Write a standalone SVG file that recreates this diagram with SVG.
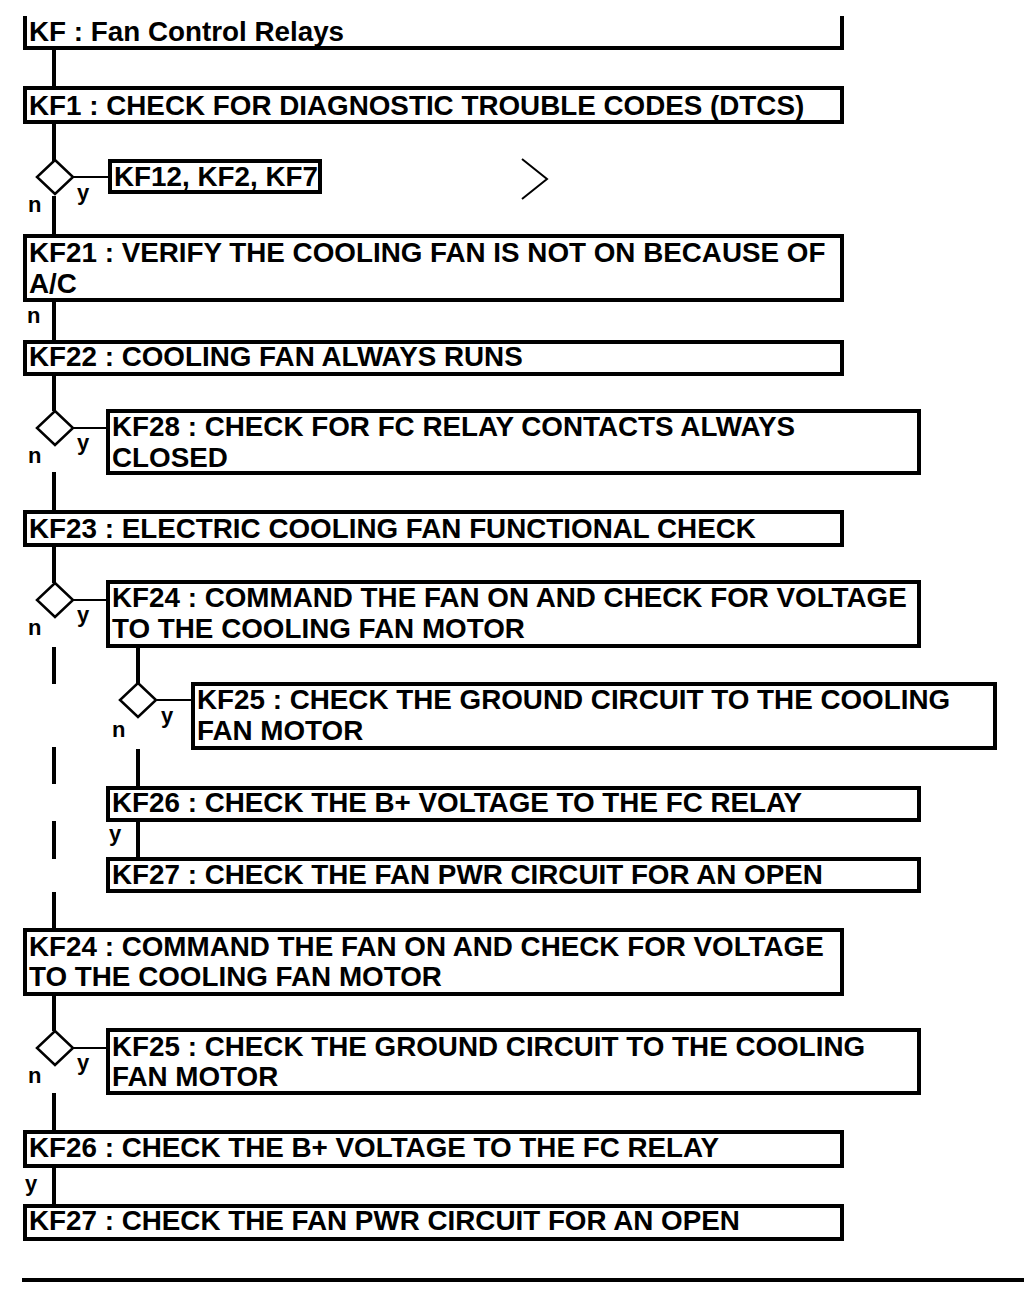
<svg xmlns="http://www.w3.org/2000/svg" width="1024" height="1304" viewBox="0 0 1024 1304">
<style>
.box{fill:#fff;stroke:#000;stroke-width:4}
.dia{fill:#fff;stroke:#000;stroke-width:2.5}
.ln{stroke:#000;stroke-width:4;fill:none}
.thin{stroke:#000;stroke-width:2;fill:none}
text{font-family:"Liberation Sans",Arial,sans-serif;font-weight:bold;font-size:27.8px;fill:#000}
.lbl{font-size:22px}
</style>
<rect width="1024" height="1304" fill="#fff"/>
<g id="connectors">
<line class="ln" x1="54" y1="50" x2="54" y2="88"/>
<line class="ln" x1="54" y1="122" x2="54" y2="161"/>
<line class="thin" x1="73" y1="177" x2="110" y2="177"/>
<line class="ln" x1="54" y1="196" x2="54" y2="236"/>
<line class="ln" x1="54" y1="300" x2="54" y2="342"/>
<line class="ln" x1="54" y1="374" x2="54" y2="411"/>
<line class="thin" x1="73" y1="428" x2="108" y2="428"/>
<line class="ln" x1="54" y1="472" x2="54" y2="512"/>
<line class="ln" x1="54" y1="545" x2="54" y2="583"/>
<line class="thin" x1="73" y1="600" x2="108" y2="600"/>
<line class="ln" x1="54" y1="647" x2="54" y2="684"/>
<line class="ln" x1="54" y1="747" x2="54" y2="784"/>
<line class="ln" x1="54" y1="821" x2="54" y2="859"/>
<line class="ln" x1="54" y1="892" x2="54" y2="930"/>
<line class="ln" x1="138" y1="647" x2="138" y2="684"/>
<line class="thin" x1="157" y1="700" x2="193" y2="700"/>
<line class="ln" x1="138" y1="749" x2="138" y2="788"/>
<line class="ln" x1="138" y1="820" x2="138" y2="859"/>
<line class="ln" x1="54" y1="994" x2="54" y2="1031"/>
<line class="thin" x1="73" y1="1048" x2="108" y2="1048"/>
<line class="ln" x1="54" y1="1093" x2="54" y2="1132"/>
<line class="ln" x1="54" y1="1166" x2="54" y2="1206"/>
<polyline class="thin" points="522,159 547,179 522,199"/>
<line class="ln" x1="22" y1="1280" x2="1024" y2="1280"/>
</g>
<g id="title">
<polyline class="ln" points="25,16 25,48 842,48 842,16"/>
<text x="29" y="41">KF : Fan Control Relays</text>
</g>
<g id="kf1">
<rect class="box" x="25" y="88" width="817" height="34"/>
<text x="29" y="115">KF1 : CHECK FOR DIAGNOSTIC TROUBLE CODES (DTCS)</text>
</g>
<g id="d1">
<polygon class="dia" points="55,160 73,177 55,194 37,177"/>
<text class="lbl" x="77" y="200">y</text>
<text class="lbl" x="28" y="212">n</text>
</g>
<g id="kf12">
<rect class="box" x="110" y="161" width="210" height="31"/>
<text x="114" y="186">KF12, KF2, KF7</text>
</g>
<g id="kf21">
<rect class="box" x="25" y="236" width="817" height="64"/>
<text x="29" y="262">KF21 : VERIFY THE COOLING FAN IS NOT ON BECAUSE OF</text>
<text x="29" y="293">A/C</text>
<text class="lbl" x="27" y="323">n</text>
</g>
<g id="kf22">
<rect class="box" x="25" y="342" width="817" height="32"/>
<text x="29" y="366">KF22 : COOLING FAN ALWAYS RUNS</text>
</g>
<g id="d2">
<polygon class="dia" points="55,411 73,428 55,445 37,428"/>
<text class="lbl" x="77" y="450">y</text>
<text class="lbl" x="28" y="463">n</text>
</g>
<g id="kf28">
<rect class="box" x="108" y="411" width="811" height="62"/>
<text x="112" y="436">KF28 : CHECK FOR FC RELAY CONTACTS ALWAYS</text>
<text x="112" y="467">CLOSED</text>
</g>
<g id="kf23">
<rect class="box" x="25" y="512" width="817" height="33"/>
<text x="29" y="538">KF23 : ELECTRIC COOLING FAN FUNCTIONAL CHECK</text>
</g>
<g id="d3">
<polygon class="dia" points="55,583 73,600 55,617 37,600"/>
<text class="lbl" x="77" y="622">y</text>
<text class="lbl" x="28" y="635">n</text>
</g>
<g id="kf24a">
<rect class="box" x="108" y="582" width="811" height="64"/>
<text x="112" y="607">KF24 : COMMAND THE FAN ON AND CHECK FOR VOLTAGE</text>
<text x="112" y="638">TO THE COOLING FAN MOTOR</text>
</g>
<g id="d4">
<polygon class="dia" points="138,683 156,700 138,717 120,700"/>
<text class="lbl" x="161" y="723">y</text>
<text class="lbl" x="112" y="737">n</text>
</g>
<g id="kf25a">
<rect class="box" x="193" y="684" width="802" height="64"/>
<text x="197" y="709">KF25 : CHECK THE GROUND CIRCUIT TO THE COOLING</text>
<text x="197" y="740">FAN MOTOR</text>
</g>
<g id="kf26a">
<rect class="box" x="108" y="788" width="811" height="32"/>
<text x="112" y="812">KF26 : CHECK THE B+ VOLTAGE TO THE FC RELAY</text>
<text class="lbl" x="109" y="841">y</text>
</g>
<g id="kf27a">
<rect class="box" x="108" y="859" width="811" height="32"/>
<text x="112" y="884">KF27 : CHECK THE FAN PWR CIRCUIT FOR AN OPEN</text>
</g>
<g id="kf24b">
<rect class="box" x="25" y="930" width="817" height="64"/>
<text x="29" y="956">KF24 : COMMAND THE FAN ON AND CHECK FOR VOLTAGE</text>
<text x="29" y="986">TO THE COOLING FAN MOTOR</text>
</g>
<g id="d5">
<polygon class="dia" points="55,1031 73,1048 55,1065 37,1048"/>
<text class="lbl" x="77" y="1070">y</text>
<text class="lbl" x="28" y="1083">n</text>
</g>
<g id="kf25b">
<rect class="box" x="108" y="1030" width="811" height="63"/>
<text x="112" y="1056">KF25 : CHECK THE GROUND CIRCUIT TO THE COOLING</text>
<text x="112" y="1086">FAN MOTOR</text>
</g>
<g id="kf26b">
<rect class="box" x="25" y="1132" width="817" height="34"/>
<text x="29" y="1157">KF26 : CHECK THE B+ VOLTAGE TO THE FC RELAY</text>
<text class="lbl" x="25" y="1191">y</text>
</g>
<g id="kf27b">
<rect class="box" x="25" y="1206" width="817" height="33"/>
<text x="29" y="1230">KF27 : CHECK THE FAN PWR CIRCUIT FOR AN OPEN</text>
</g>
</svg>
